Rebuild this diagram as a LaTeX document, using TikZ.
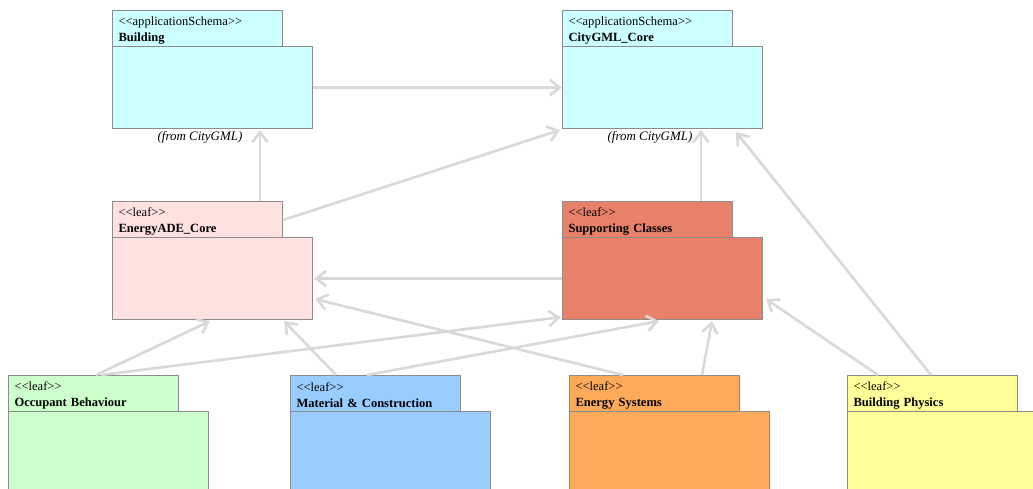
\documentclass[tikz,border=0pt]{standalone}
\usepackage{fontspec}
\setmainfont{Liberation Serif}
\usetikzlibrary{arrows.meta,calc}
\definecolor{edgegray}{HTML}{8C8C8C}
\definecolor{depgray}{HTML}{D9D9D9}
\definecolor{cyanpk}{HTML}{CCFFFF}
\definecolor{pinkpk}{HTML}{FFE1E0}
\definecolor{supppk}{HTML}{E8806A}
\definecolor{greenpk}{HTML}{CCFFCC}
\definecolor{bluepk}{HTML}{99CCFF}
\definecolor{orangepk}{HTML}{FDAA5B}
\definecolor{yellowpk}{HTML}{FFFF99}
\tikzset{
  pkgtab/.style={draw=edgegray, line width=0.8pt, anchor=north west,
    minimum width=127.5pt, minimum height=27pt, text width=118.5pt,
    inner xsep=4.5pt, inner ysep=0pt, align=left,
    font=\fontsize{9.4}{12}\selectfont},
  pkgbody/.style={draw=edgegray, line width=0.8pt, anchor=north west,
    minimum width=150pt, minimum height=61.5pt, inner sep=0pt},
  fromlbl/.style={font=\fontsize{9.7}{12}\selectfont\itshape, inner sep=0pt},
  dep/.style={draw=depgray, line width=2pt,
    -{Straight Barb[length=7.5pt,width=11.5pt,line width=2pt]}}
}
\newcommand{\stq}[1]{\rule{0pt}{9.6pt}<\kern0pt<#1>\kern0pt>}
\begin{document}
\begin{tikzpicture}[x=0.75pt,y=-0.75pt]
\useasboundingbox (0,0) rectangle (1033,489);
\clip (0,0) rectangle (1033,489);
% packages
\node[pkgtab, fill=cyanpk] (bT) at (112,10) {\stq{applicationSchema}\\\textbf{Building}};
\node[pkgbody, fill=cyanpk] (bB) at (112,46) {};
\node[fromlbl] (bF) at (200,137) {(from CityGML)};
\node[pkgtab, fill=cyanpk] (cT) at (562,10) {\stq{applicationSchema}\\\textbf{CityGML\_Core}};
\node[pkgbody, fill=cyanpk] (cB) at (562,46) {};
\node[fromlbl] (cF) at (650,137) {(from CityGML)};
\node[pkgtab, fill=pinkpk] (eT) at (112,201) {\stq{leaf}\\\textbf{EnergyADE\_Core}};
\node[pkgbody, fill=pinkpk] (eB) at (112,237) {};
\node[pkgtab, fill=supppk] (sT) at (562,201) {\stq{leaf}\\\textbf{Supporting Classes}};
\node[pkgbody, fill=supppk] (sB) at (562,237) {};
\node[pkgtab, fill=greenpk] (oT) at (8,375) {\stq{leaf}\\\textbf{Occupant Behaviour}};
\node[pkgbody, fill=greenpk] (oB) at (8,411) {};
\node[pkgtab, fill=bluepk] (mT) at (290,375) {\stq{leaf}\\\textbf{Material \& Construction}};
\node[pkgbody, fill=bluepk] (mB) at (290,411) {};
\node[pkgtab, fill=orangepk] (yT) at (569,375) {\stq{leaf}\\\textbf{Energy Systems}};
\node[pkgbody, fill=orangepk] (yB) at (569,411) {};
\node[pkgtab, fill=yellowpk] (pT) at (847,375) {\stq{leaf}\\\textbf{Building Physics}};
\node[pkgbody, fill=yellowpk] (pB) at (847,411) {};
% dependencies
\draw[dep] (bB.east) -- (cB.west);
\draw[dep] ($(eT.north west)+(148,0)$) -- ($(bB.south west)+(148,1)$);
\draw[dep] ($(eT.north east)+(0,19)$) -- ($(cB.south west)+(-2,1)$);
\draw[dep] ($(sT.north west)+(139,0)$) -- ($(cB.south west)+(139,1)$);
\draw[dep] ($(pT.north west)+(84,0)$) -- ($(cB.south east)+(-27,3)$);
\draw[dep] (sB.west) -- ($(eB.east)+(1,0)$);
\draw[dep] ($(yT.north west)+(54,0)$) -- ($(eB.south east)+(2,-21)$);
\draw[dep] ($(oT.north west)+(88,0)$) -- ($(eB.south west)+(98,1)$);
\draw[dep] ($(oT.north west)+(93,0)$) -- ($(sB.south west)+(-1,-3)$);
\draw[dep] ($(mT.north west)+(46,0)$) -- ($(eB.south west)+(172,1)$);
\draw[dep] ($(mT.north west)+(77,0)$) -- ($(sB.south west)+(97,1)$);
\draw[dep] ($(yT.north west)+(133,0)$) -- ($(sB.south west)+(150,1)$);
\draw[dep] ($(pT.north west)+(31,0)$) -- ($(sB.south east)+(3,-21)$);
\end{tikzpicture}
\end{document}
